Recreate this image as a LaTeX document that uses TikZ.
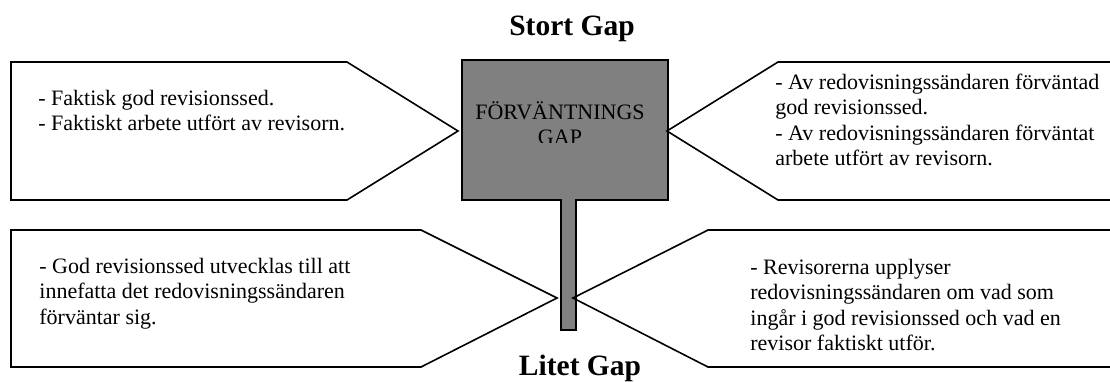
\documentclass[tikz,border=0pt]{standalone}
\usepackage{fontspec}
\setmainfont{Liberation Serif}
\usetikzlibrary{positioning}
\definecolor{signgray}{RGB}{128,128,128}

\begin{document}
\begin{tikzpicture}[x=0.5pt, y=-0.5pt,
    panel/.style={draw=black, line width=0.8pt, line join=miter},
    sign/.style={draw=black, fill=signgray, line width=0.8pt},
    % multi-line notes sit on the baseline of their last line
    note/.style={inner sep=0pt, align=left, anchor=base west,
                 font=\fontsize{11}{12.8}\selectfont},
    heading/.style={inner sep=0pt, anchor=base,
                    font=\fontsize{14.75}{17}\selectfont\bfseries}
  ]
  \useasboundingbox (0,0) rectangle (1110,381);

  % the sign: board and post as one outline
  \draw[sign] (462,60) -- (668,60) -- (668,200) -- (576,200) -- (576,330)
        -- (561,330) -- (561,200) -- (462,200) -- cycle;
  \begin{scope}
    \clip (462,60) rectangle (668,142);
    \node[inner sep=0pt, anchor=base, align=center,
          font=\fontsize{11}{12.8}\selectfont] (gaptext) at (560,144.6)
          {FÖRVÄNTNINGS\\GAP};
  \end{scope}

  % panels pointing at the sign
  \draw[panel] (11,62) -- (347,62) -- (458,131) -- (347,200) -- (11,200) -- cycle;
  \draw[panel] (1125,62) -- (778,62) -- (667,131) -- (778,200) -- (1125,200);
  \draw[panel] (11,230) -- (421,230) -- (557,298) -- (421,367) -- (11,367) -- cycle;
  \draw[panel] (1125,230) -- (708,230) -- (573,298) -- (708,367) -- (1125,367);

  \node[heading] (stort) at (572,35) {Stort Gap};
  \node[heading] (litet) at (580,375) {Litet Gap};

  \node[note] (faktisk) at (38,130.6)
    {- Faktisk god revisionssed.\\- Faktiskt arbete utfört av revisorn.};
  \node[note] (forvantad) at (775,165.8)
    {- Av redovisningssändaren förväntad\\god revisionssed.\\
     - Av redovisningssändaren förväntat\\arbete utfört av revisorn.};
  \node[note] (utveckling) at (39,324.2)
    {- God revisionssed utvecklas till att\\innefatta det redovisningssändaren\\
     förväntar sig.};
  \node[note] (upplysning) at (750,350.8)
    {- Revisorerna upplyser\\redovisningssändaren om vad som\\
     ingår i god revisionssed och vad en\\revisor faktiskt utför.};
\end{tikzpicture}
\end{document}
